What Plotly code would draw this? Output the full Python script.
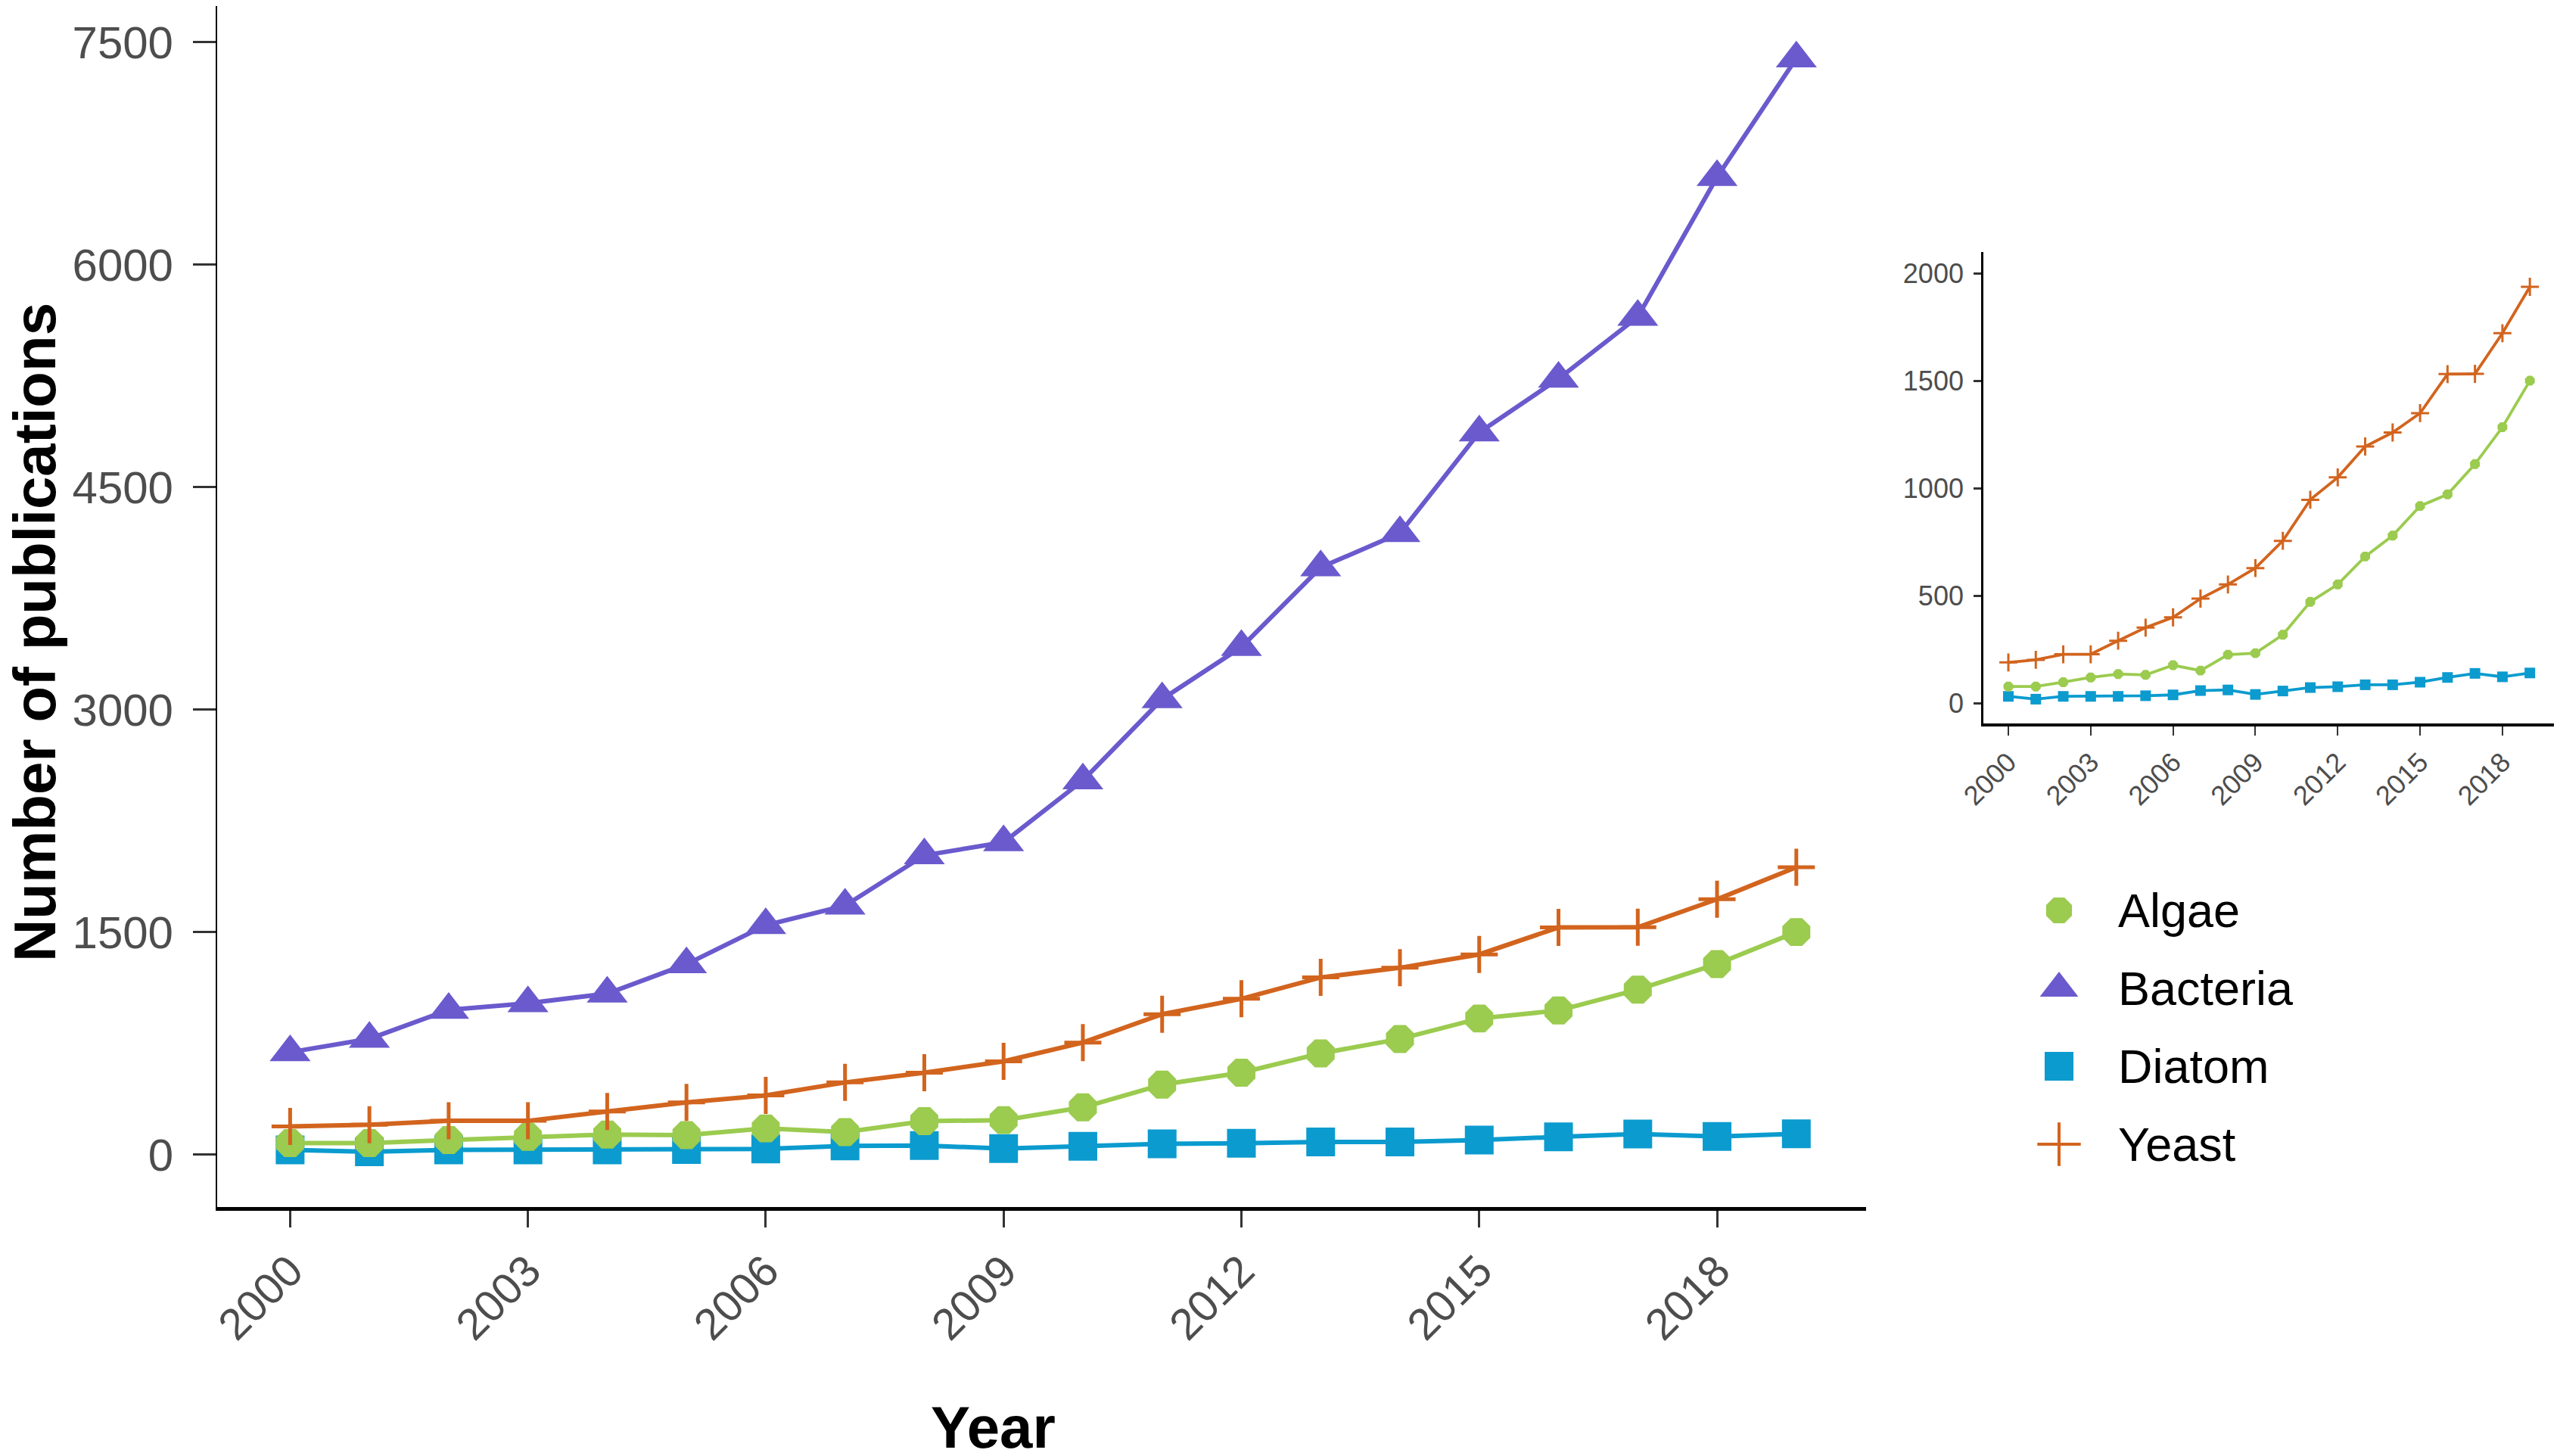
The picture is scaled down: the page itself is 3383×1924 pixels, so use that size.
import plotly.graph_objects as go

# publications per year
years = list(range(2000, 2020))
bacteria = [690, 780, 975, 1020, 1085, 1283, 1546, 1678, 2017, 2105,
            2522, 3070, 3421, 3958, 4189, 4868, 5230, 5647, 6590, 7390]
yeast = [189, 201, 227, 227, 290, 351, 399, 486, 552, 628,
         755, 946, 1050, 1194, 1259, 1349, 1531, 1532, 1721, 1937]
algae = [77, 77, 97, 119, 135, 131, 176, 151, 225, 232,
         318, 471, 552, 682, 779, 917, 971, 1112, 1284, 1500]
diatom = [31, 18, 31, 31, 31, 34, 38, 58, 61, 40,
          56, 72, 76, 85, 85, 97, 119, 138, 122, 140]

year_ticks = list(range(2000, 2019, 3))
main_yticks = [0, 1500, 3000, 4500, 6000, 7500]
inset_yticks = [0, 500, 1000, 1500, 2000]

legend_names = ['Algae', 'Bacteria', 'Diatom', 'Yeast']

FONT = 'Liberation Sans, Arial, sans-serif'
W, H = 3383, 1924
OFF = 8  # page body margin


def fx(p):
    # page pixel -> paper x
    return (p - OFF) / W


def fy(p):
    # page pixel (from top) -> paper y
    return 1 - (p - OFF) / H


# name: (values, colour, symbol, main size, inset size)
series = {
    'Diatom': (diatom, '#0B9BCF', 'square', 38, 14),
    'Algae': (algae, '#9BCB4F', 'octagon', 40, 14),
    'Yeast': (yeast, '#D2641E', 'cross-thin', 35, 17),
    'Bacteria': (bacteria, '#6A5ACD', 'triangle-up', 47, None),
}

fig = go.Figure()

for name, (vals, col, sym, size, _) in series.items():
    fig.add_trace(go.Scatter(
        x=years, y=vals, mode='lines+markers', name=name, showlegend=False,
        line=dict(color=col, width=6),
        marker=dict(symbol=sym, size=size, color=col,
                    line=dict(color=col, width=5 if sym == 'cross-thin' else 0)),
        xaxis='x', yaxis='y'))

# inset without bacteria
for name, (vals, col, sym, _, isize) in series.items():
    if isize is None:
        continue
    fig.add_trace(go.Scatter(
        x=years, y=vals, mode='lines+markers', name=name, showlegend=False,
        line=dict(color=col, width=3.8),
        marker=dict(symbol=sym, size=isize, color=col,
                    line=dict(color=col, width=3 if sym == 'cross-thin' else 0)),
        xaxis='x2', yaxis='y2'))

# hand made legend (plotly caps legend marker size)
leg_y = [1203 + 103 * i for i in range(len(legend_names))]
leg_sizes = {'Algae': 37, 'Bacteria': 44, 'Diatom': 38, 'Yeast': 41}
for i, name in enumerate(legend_names):
    vals, col, sym, _, _ = series[name]
    fig.add_trace(go.Scatter(
        x=[2721], y=[leg_y[i]], mode='markers', showlegend=False,
        marker=dict(symbol=sym, size=leg_sizes[name], color=col,
                    line=dict(color=col, width=4 if sym == 'cross-thin' else 0)),
        xaxis='x3', yaxis='y3', hoverinfo='skip'))
    fig.add_annotation(x=2797, y=leg_y[i], xref='x3', yref='y3', text=name,
                       showarrow=False, xanchor='left', yanchor='middle',
                       font=dict(family=FONT, size=63, color='black'))

# automargin off, otherwise the template pushes the left margin
axis_common = dict(showgrid=False, zeroline=False, showline=True, automargin=False,
                   ticks='outside', tickcolor='#333333', linecolor='black')

fig.update_layout(
    width=W, height=H,
    margin=dict(l=0, r=0, t=0, b=0),
    paper_bgcolor='white', plot_bgcolor='rgba(0,0,0,0)',
    font=dict(family=FONT, color='#4D4D4D'),
    xaxis=dict(domain=[fx(287), fx(2466)], range=[1999.08, 2019.88],
               tickvals=year_ticks, tickangle=-45, ticklen=22, tickwidth=2.5,
               linewidth=4.5, tickfont=dict(size=58, color='#4D4D4D'),
               anchor='y', **axis_common),
    yaxis=dict(domain=[fy(1595), 1], range=[-354, 7743],
               tickvals=main_yticks, ticklen=30, tickwidth=2.5, linewidth=2,
               ticklabelstandoff=14,
               tickfont=dict(size=60, color='#4D4D4D'), anchor='x', **axis_common),
    xaxis2=dict(domain=[fx(2621), fx(3378)], range=[1999.09, 2019.96],
                tickvals=year_ticks, tickangle=-45, ticklen=12, tickwidth=2,
                linewidth=3.5, tickfont=dict(size=36, color='#4D4D4D'),
                anchor='y2', **axis_common),
    yaxis2=dict(domain=[fy(956), fy(333)], range=[-95, 2099],
                tickvals=inset_yticks, ticklen=10, tickwidth=2.5, linewidth=2.7,
                ticklabelstandoff=6,
                tickfont=dict(size=36, color='#4D4D4D'), anchor='x2', **axis_common),
    # overlay axes in page pixels, used for legend and titles
    xaxis3=dict(domain=[0, 1], range=[OFF, W + OFF], visible=False,
                automargin=False, anchor='y3'),
    yaxis3=dict(domain=[0, 1], range=[H + OFF, OFF], visible=False,
                automargin=False, anchor='x3'),
)

# axis titles
fig.add_annotation(x=46, y=836, xref='x3', yref='y3',
                   text='<b>Number of publications</b>', textangle=-90,
                   showarrow=False, xanchor='center', yanchor='middle',
                   font=dict(family=FONT, size=78, color='black'))
fig.add_annotation(x=1312, y=1886, xref='x3', yref='y3',
                   text='<b>Year</b>', showarrow=False,
                   xanchor='center', yanchor='middle',
                   font=dict(family=FONT, size=78, color='black'))

fig.write_html("out.html")
